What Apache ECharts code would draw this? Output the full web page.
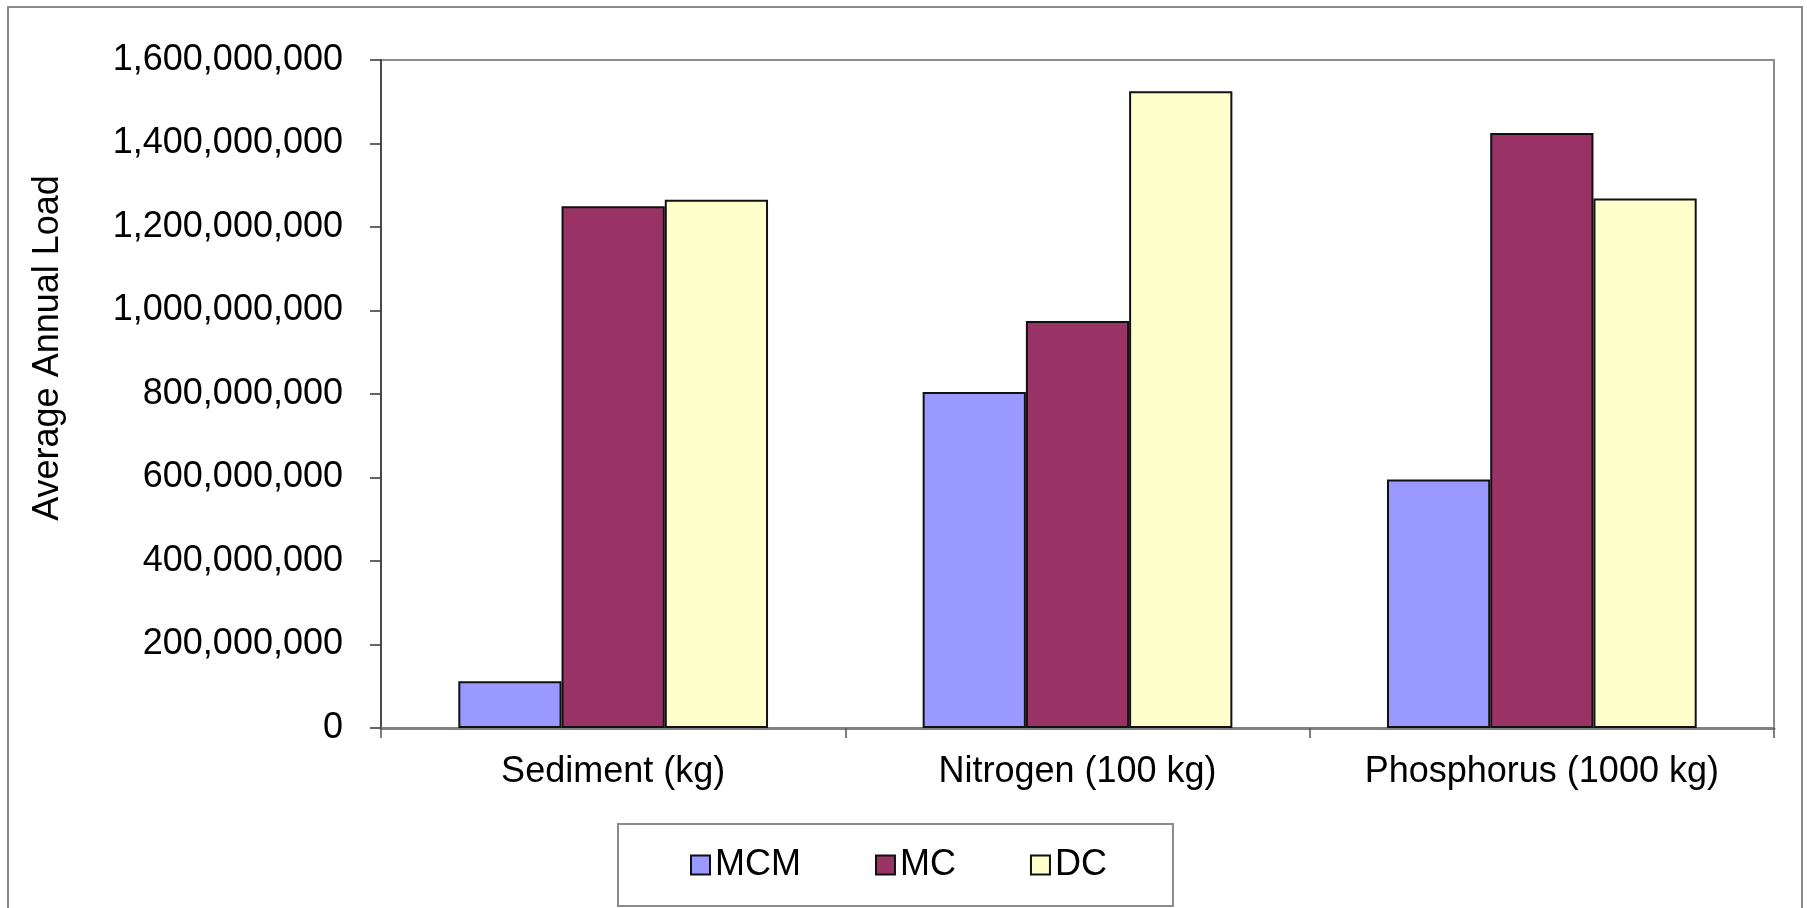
<!DOCTYPE html>
<html>
<head>
<meta charset="utf-8">
<script src="https://cdn.jsdelivr.net/npm/echarts@6/dist/echarts.min.js"></script>
<style>
  html, body { margin: 0; padding: 0; background: #fff; }
  #chart { width: 1807px; height: 908px; }
</style>
</head>
<body>
<div id="chart"></div>
<script>
// Average annual loads by constituent and estimation method
const categories = ['Sediment (kg)', 'Nitrogen (100 kg)', 'Phosphorus (1000 kg)'];
const seriesNames = ['MCM', 'MC', 'DC'];
const mcmValues = [112000000, 805000000, 595000000];
const mcValues = [1250000000, 975000000, 1425000000];
const dcValues = [1265000000, 1525000000, 1268000000];
const yAxisTitle = 'Average Annual Load';

const FONT = '"Liberation Sans", Arial, sans-serif';
const colors = ['#9999FF', '#993366', '#FFFFCC'];
const valueSets = [mcmValues, mcValues, dcValues];

function withCommas(v) {
  return String(v).replace(/\B(?=(\d{3})+(?!\d))/g, ',');
}

const chart = echarts.init(document.getElementById('chart'), null, { renderer: 'canvas' });

chart.setOption({
  backgroundColor: '#ffffff',
  animation: false,
  textStyle: { fontFamily: FONT },
  graphic: [
    {
      // outer chart frame
      type: 'rect',
      shape: { x: 8, y: 7, width: 1794, height: 920 },
      style: { fill: 'none', stroke: '#8a8a8a', lineWidth: 2 },
      z: -1
    },
    {
      // value axis title, rotated
      type: 'text',
      x: 48, y: 348,
      rotation: Math.PI / 2,
      style: {
        text: yAxisTitle,
        fontSize: 36, fontFamily: FONT, fill: '#000',
        align: 'center', verticalAlign: 'middle'
      }
    }
  ],
  grid: {
    left: 381, right: 33, top: 60, bottom: 180,
    show: true, borderColor: '#8c8c8c', borderWidth: 2
  },
  legend: {
    data: seriesNames,
    left: 618, top: 824,
    padding: [23, 66, 23, 72],
    itemGap: 74,
    itemWidth: 19, itemHeight: 19,
    borderColor: '#8a8a8a', borderWidth: 2,
    textStyle: { fontSize: 36, color: '#000', fontFamily: FONT },
    icon: 'rect'
  },
  xAxis: {
    type: 'category',
    data: categories,
    axisLine: { lineStyle: { color: '#808080', width: 3 } },
    axisTick: { show: true, length: 10, lineStyle: { color: '#555', width: 1.5 } },
    axisLabel: { fontSize: 36, color: '#000', margin: 26, fontFamily: FONT }
  },
  yAxis: {
    type: 'value',
    min: 0, max: 1600000000, interval: 200000000,
    axisLine: { show: true, lineStyle: { color: '#333', width: 1.5 } },
    axisTick: { show: true, length: 11, lineStyle: { color: '#333', width: 1.5 } },
    splitLine: { show: false },
    axisLabel: { fontSize: 36, color: '#000', margin: 38, fontFamily: FONT, formatter: withCommas }
  },
  series: seriesNames.map((name, i) => ({
    name: name,
    type: 'bar',
    data: valueSets[i],
    barGap: '0%',
    barCategoryGap: '33.3%',
    itemStyle: { color: colors[i], borderColor: '#111', borderWidth: 2 }
  }))
});
</script>
</body>
</html>
